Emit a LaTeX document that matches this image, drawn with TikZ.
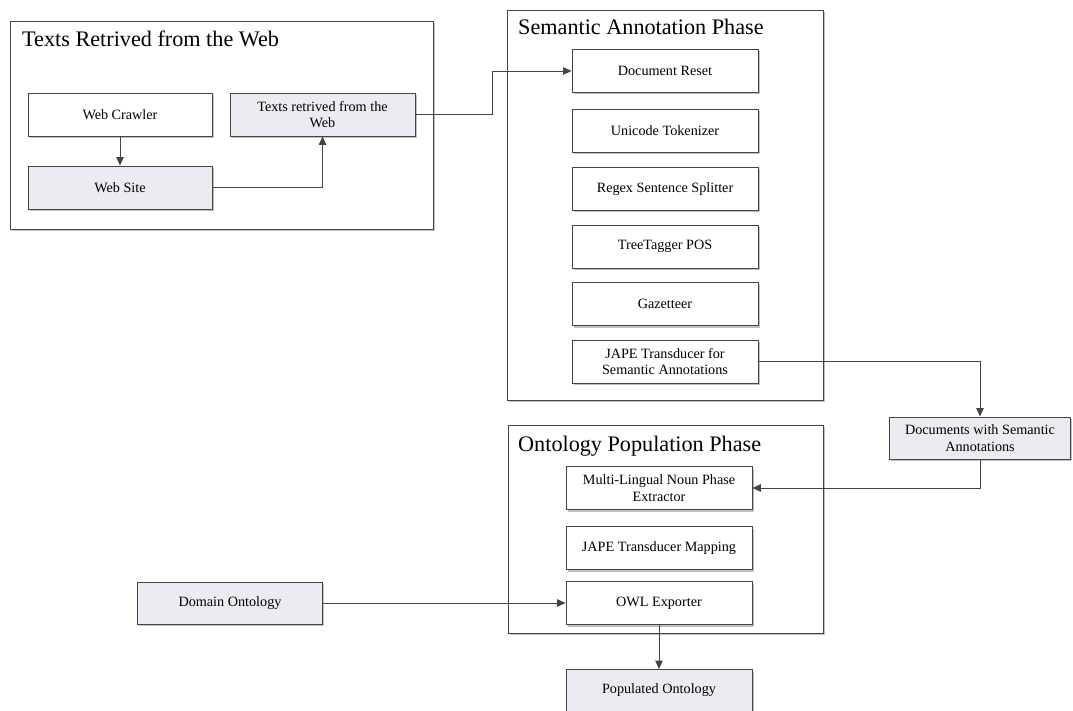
\documentclass[tikz,border=0pt]{standalone}
\usepackage{fontspec}
\setmainfont{Liberation Serif}
\usetikzlibrary{arrows.meta,shadows}
\definecolor{boxgray}{HTML}{ECEBF1}
\definecolor{linegray}{HTML}{444444}
\tikzset{
  shade/.style={drop shadow={shadow xshift=1.6pt,shadow yshift=-2pt,opacity=.35,fill=black!70}},
  group/.style={draw=linegray,line width=0.9pt,fill=white,shade},
  stage/.style={draw=linegray,line width=0.9pt,fill=white,shade,
    minimum width=186pt,minimum height=43pt,inner sep=1pt,align=center,
    font=\fontsize{14.2}{16.5}\selectfont},
  datum/.style={stage,fill=boxgray},
  grouptitle/.style={anchor=base west,inner sep=0pt,font=\fontsize{22.2}{25}\selectfont},
  flow/.style={draw=linegray,line width=0.9pt,-{Triangle[length=8.5pt,width=7.5pt]}}
}
\begin{document}
\begin{tikzpicture}[x=1pt,y=-1pt]
\useasboundingbox (0,0) rectangle (1073,711);

% phase frames
\node[group,minimum width=423pt,minimum height=208pt,inner sep=0pt] (g1) at (221.5,125) {};
\node[group,minimum width=316pt,minimum height=390pt,inner sep=0pt] (g2) at (665,205) {};
\node[group,minimum width=315pt,minimum height=208pt,inner sep=0pt] (g3) at (665.5,529) {};
\node[grouptitle] (t1) at (22,47) {Texts Retrived from the Web};
\node[grouptitle] (t2) at (518,35) {Semantic Annotation Phase};
\node[grouptitle] (t3) at (518,451) {Ontology Population Phase};

% retrieval
\node[stage,minimum width=184pt] (crawler) at (120,114.5) {Web Crawler};
\node[datum,minimum width=184pt] (website) at (120,187.5) {Web Site};
\node[datum,minimum width=185pt] (texts) at (322.5,114.5) {Texts retrived from the\\Web};

% annotation pipeline
\node[stage] (reset) at (665,71) {Document Reset};
\node[stage] (token) at (665,131) {Unicode Tokenizer};
\node[stage] (split) at (665,189) {Regex Sentence Splitter};
\node[stage] (pos) at (665,246.5) {TreeTagger POS};
\node[stage] (gaz) at (665,304) {Gazetteer};
\node[stage] (jape) at (665,361.5) {JAPE Transducer for\\Semantic Annotations};

\node[datum,minimum width=181pt,minimum height=42pt] (docs) at (980,438) {Documents with Semantic\\Annotations};

% population pipeline
\node[stage] (np) at (659,488) {Multi-Lingual Noun Phase\\Extractor};
\node[stage] (map) at (659,548) {JAPE Transducer Mapping};
\node[stage] (owl) at (659,603) {OWL Exporter};
\node[datum,minimum width=185pt,minimum height=42pt] (domain) at (230,603) {Domain Ontology};
\node[datum,minimum height=42pt] (pop) at (659,690.5) {Populated Ontology};

% connectors
\draw[flow] (crawler) -- (website);
\draw[flow] (website.east) -| (texts.south);
\draw[flow] (texts.east) -- ++(77,0) |- (reset.west);
\draw[flow] (jape.east) -| (docs.north);
\draw[flow] (docs.south) |- (np.east);
\draw[flow] (domain.east) -- (owl.west);
\draw[flow] (owl) -- (pop);
\end{tikzpicture}
\end{document}
